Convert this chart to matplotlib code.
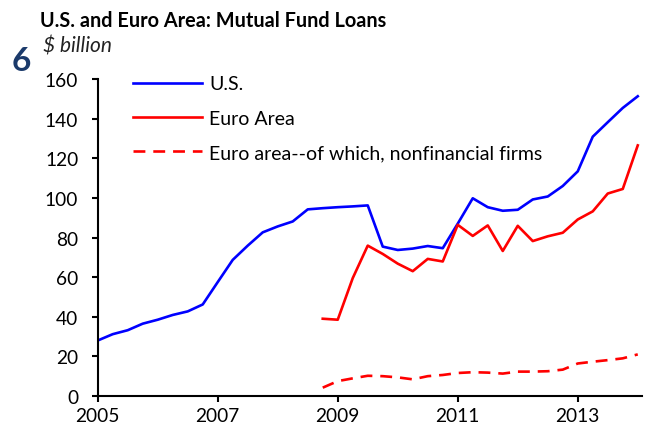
import matplotlib.pyplot as plt
import numpy as np

# quarterly data, $ billion
us_start = 2005.0
us = [28.0, 31.2, 33.2, 36.5, 38.5, 40.9, 42.7, 46.2,
      57.5, 68.7, 75.9, 82.6, 85.6, 88.1, 94.2, 94.8,
      95.3, 95.7, 96.2, 75.4, 73.7, 74.4, 75.7, 74.6,
      87.0, 99.8, 95.3, 93.5, 94.0, 99.2, 100.7, 106.0,
      113.4, 130.9, 138.2, 145.4, 151.3]

euro_start = 2008.75
euro = [39.0, 38.5, 59.5, 75.9, 71.7, 66.8, 63.0, 69.2,
        67.9, 86.4, 80.8, 86.1, 73.2, 85.9, 78.2, 80.6,
        82.4, 89.1, 93.2, 102.2, 104.5, 126.5]
euro_nfc = [4.2, 7.5, 8.9, 10.2, 10.0, 9.4, 8.4, 10.0,
            10.6, 11.6, 12.0, 11.8, 11.3, 12.3, 12.3, 12.5,
            13.3, 16.4, 17.3, 18.1, 19.0, 21.0]

labels = ['U.S.', 'Euro Area', 'Euro area--of which, nonfinancial firms']
xticks = [2005, 2007, 2009, 2011, 2013]
yticks = [0, 20, 40, 60, 80, 100, 120, 140, 160]

x_us = us_start + 0.25 * np.arange(len(us))
x_eu = euro_start + 0.25 * np.arange(len(euro))

plt.rcParams['font.family'] = ['Lato', 'DejaVu Sans']

fig = plt.figure(figsize=(6.45, 4.27), dpi=100)
ax = fig.add_axes([0.1515, 0.0703, 0.8438, 0.7423])

ax.plot(x_us, us, color='#0000FF', lw=1.9, label=labels[0])
ax.plot(x_eu, euro, color='#FF0000', lw=1.9, label=labels[1])
ax.plot(x_eu, euro_nfc, color='#FF0000', lw=1.9, linestyle=(0, (4.5, 3)), label=labels[2])

ax.set_xlim(2005, 2014.07)
ax.set_ylim(0, 160)
ax.set_xticks(xticks)
ax.set_yticks(yticks)
for s in ['top', 'right']:
    ax.spines[s].set_visible(False)
for s in ['left', 'bottom']:
    ax.spines[s].set_linewidth(1.5)
ax.tick_params(axis='y', direction='out', length=4, width=1.5, pad=10, labelsize=13.8)
ax.tick_params(axis='x', direction='out', length=4.5, width=1.5, pad=3.5, labelsize=13.8)

ax.legend(loc='upper left', bbox_to_anchor=(0.206, 0.821), bbox_transform=fig.transFigure,
          frameon=False, fontsize=14, handlelength=3.55, handletextpad=0.36,
          labelspacing=0.89, borderpad=0, borderaxespad=0)

fig.text(0.062, 0.937, 'U.S. and Euro Area: Mutual Fund Loans', fontsize=14.3,
         fontweight='bold', color='black', ha='left', va='baseline')
fig.text(0.018, 0.833, '6', fontsize=24, fontweight='bold', color='#1B3A6B',
         ha='left', va='baseline')
fig.text(0.066, 0.876, '$ billion', fontsize=15, style='italic', color='#222222',
         ha='left', va='baseline')

fig.savefig('out.png', dpi=100)
